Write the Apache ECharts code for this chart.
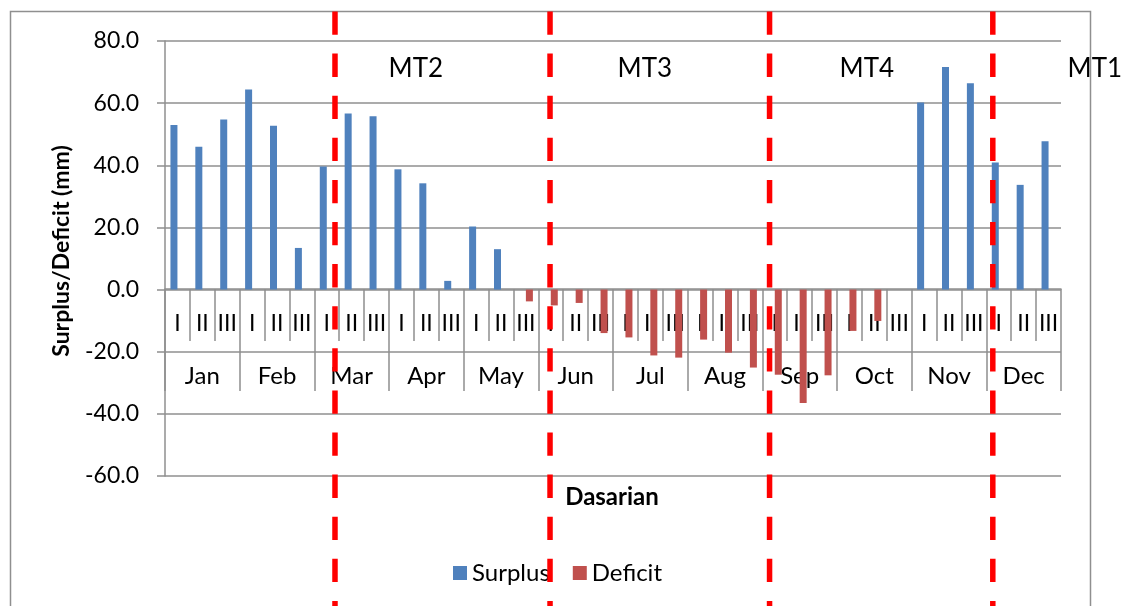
<!DOCTYPE html>
<html>
<head>
<meta charset="utf-8">
<title>Surplus / Deficit per dasarian</title>
<script src="https://cdn.jsdelivr.net/npm/echarts@6.0.0/dist/echarts.min.js"></script>
<style>
  html, body { margin: 0; padding: 0; background: #fff; }
  #main { width: 1130px; height: 606px; }
</style>
</head>
<body>
<div id="main"></div>
<script>
var months = ['Jan', 'Feb', 'Mar', 'Apr', 'May', 'Jun', 'Jul', 'Aug', 'Sep', 'Oct', 'Nov', 'Dec'];
var dasarian = ['I', 'II', 'III'];

// mm, one value per dasarian (Jan I ... Dec III)
var surplus = [
    53.0, 46.0, 54.7,   64.4, 52.7, 13.4,   39.6, 56.7, 55.8,
    38.7, 34.2, 2.8,    20.3, 13.0, 0,      0, 0, 0,
    0, 0, 0,            0, 0, 0,            0, 0, 0,
    0, 0, 0,            60.2, 71.6, 66.4,   40.9, 33.7, 47.7
];
var deficit = [
    0, 0, 0,            0, 0, 0,            0, 0, 0,
    0, 0, 0,            0, 0, -3.8,         -5.1, -4.3, -14.0,
    -15.4, -21.2, -21.9, -16.1, -20.3, -25.1, -27.4, -36.5, -27.6,
    -13.3, -10.1, 0,    0, 0, 0,            0, 0, 0
];

var yMin = -60, yMax = 80, yStep = 20;

// planting seasons: labels and where the dashed boundaries fall (in dasarian units)
var seasons = ['MT2', 'MT3', 'MT4', 'MT1'];
var seasonLinePos = [6.33, 14.97, 23.79, 32.76];
var seasonLabelPos = [9.58, 18.78, 27.70, 36.86];

var font = 'Lato, "Liberation Sans", sans-serif';
var gridGray = '#8f8f8f';

var categories = [];
months.forEach(function (m) {
    dasarian.forEach(function (d) {
        categories.push(m + ' ' + d);
    });
});

// both category rows hang from the zero line (grid bottom is -60, zero is 3 steps up)
var zeroOffset = -187;

var chart = echarts.init(document.getElementById('main'), null, { renderer: 'canvas' });

var option = {
    backgroundColor: '#fff',
    animation: false,
    grid: {
        left: 165,
        right: 69,
        top: 41,
        bottom: 130,
        containLabel: false,
        outerBoundsMode: 'none'
    },
    legend: {
        left: 448,
        top: 556,
        itemWidth: 14,
        itemHeight: 14,
        itemGap: 23,
        icon: 'rect',
        textStyle: { fontFamily: font, fontSize: 24, color: '#000' },
        data: ['Surplus', 'Deficit']
    },
    xAxis: [{
        type: 'category',
        data: categories,
        position: 'bottom',
        offset: zeroOffset,
        axisLine: { show: true, onZero: false, lineStyle: { color: gridGray, width: 1.5 } },
        axisTick: {
            show: true,
            interval: 0,
            length: 52,
            lineStyle: { color: gridGray, width: 1.5 }
        },
        axisLabel: {
            interval: 0,
            margin: 35,
            verticalAlign: 'middle',
            hideOverlap: false,
            fontFamily: font,
            fontSize: 23,
            color: '#000',
            formatter: function (v) { return v.split(' ')[1]; }
        },
        splitLine: { show: false }
    }, {
        type: 'category',
        data: months,
        position: 'bottom',
        offset: zeroOffset,
        axisLine: { show: false, onZero: false },
        axisTick: {
            show: true,
            interval: 0,
            length: 102,
            lineStyle: { color: gridGray, width: 1.5 }
        },
        axisLabel: {
            interval: 0,
            margin: 87,
            verticalAlign: 'middle',
            hideOverlap: false,
            fontFamily: font,
            fontSize: 24,
            color: '#000'
        },
        splitLine: { show: false }
    }],
    yAxis: {
        type: 'value',
        min: yMin,
        max: yMax,
        interval: yStep,
        axisLine: { show: true, lineStyle: { color: gridGray, width: 1.5 } },
        axisTick: { show: true, inside: false, length: 8, lineStyle: { color: gridGray, width: 1.5 } },
        axisLabel: {
            margin: 26,
            fontFamily: font,
            fontSize: 23,
            color: '#000',
            formatter: function (v) { return v.toFixed(1); }
        },
        splitLine: { show: true, lineStyle: { color: gridGray, width: 1.5 } }
    },
    series: [{
        name: 'Surplus',
        type: 'bar',
        xAxisIndex: 0,
        data: surplus,
        barWidth: 7,
        barGap: '0%',
        itemStyle: { color: '#4F81BD' }
    }, {
        name: 'Deficit',
        type: 'bar',
        xAxisIndex: 0,
        data: deficit,
        barWidth: 7,
        barGap: '0%',
        itemStyle: { color: '#C0504D' }
    }]
};

chart.setOption(option);

// x position of a (fractional) dasarian index, from the category axis itself
var x0 = chart.convertToPixel({ xAxisIndex: 0 }, 0);
var x1 = chart.convertToPixel({ xAxisIndex: 0 }, 1);
function catX(pos) {
    return x0 + (x1 - x0) * pos;
}

var graphics = [];

// outer chart frame
graphics.push({
    type: 'rect',
    z: 1,
    shape: { x: 10.5, y: 11.5, width: 1080, height: 640 },
    style: { fill: 'none', stroke: gridGray, lineWidth: 1.5 }
});

// season boundaries
seasonLinePos.forEach(function (p) {
    var x = catX(p);
    graphics.push({
        type: 'line',
        z: 100,
        shape: { x1: x, y1: 11.5, x2: x, y2: 620 },
        style: { stroke: '#FF0000', lineWidth: 5.5, lineDash: [23.3, 18.8] }
    });
});

// season labels
seasons.forEach(function (s, i) {
    graphics.push({
        type: 'text',
        z: 100,
        x: catX(seasonLabelPos[i]),
        y: 69,
        style: {
            text: s,
            fontFamily: font,
            fontSize: 26,
            fill: '#000',
            align: 'center',
            verticalAlign: 'middle'
        }
    });
});

// axis titles
graphics.push({
    type: 'text',
    z: 100,
    x: 612,
    y: 497,
    style: {
        text: 'Dasarian',
        fontFamily: font,
        fontWeight: 'bold',
        fontSize: 24,
        fill: '#000',
        align: 'center',
        verticalAlign: 'middle'
    }
});
graphics.push({
    type: 'text',
    z: 100,
    x: 62,
    y: 251,
    rotation: Math.PI / 2,
    style: {
        text: 'Surplus/Deficit (mm)',
        fontFamily: font,
        fontWeight: 'bold',
        fontSize: 23,
        fill: '#000',
        align: 'center',
        verticalAlign: 'middle'
    }
});

chart.setOption({ graphic: graphics });
</script>
</body>
</html>
